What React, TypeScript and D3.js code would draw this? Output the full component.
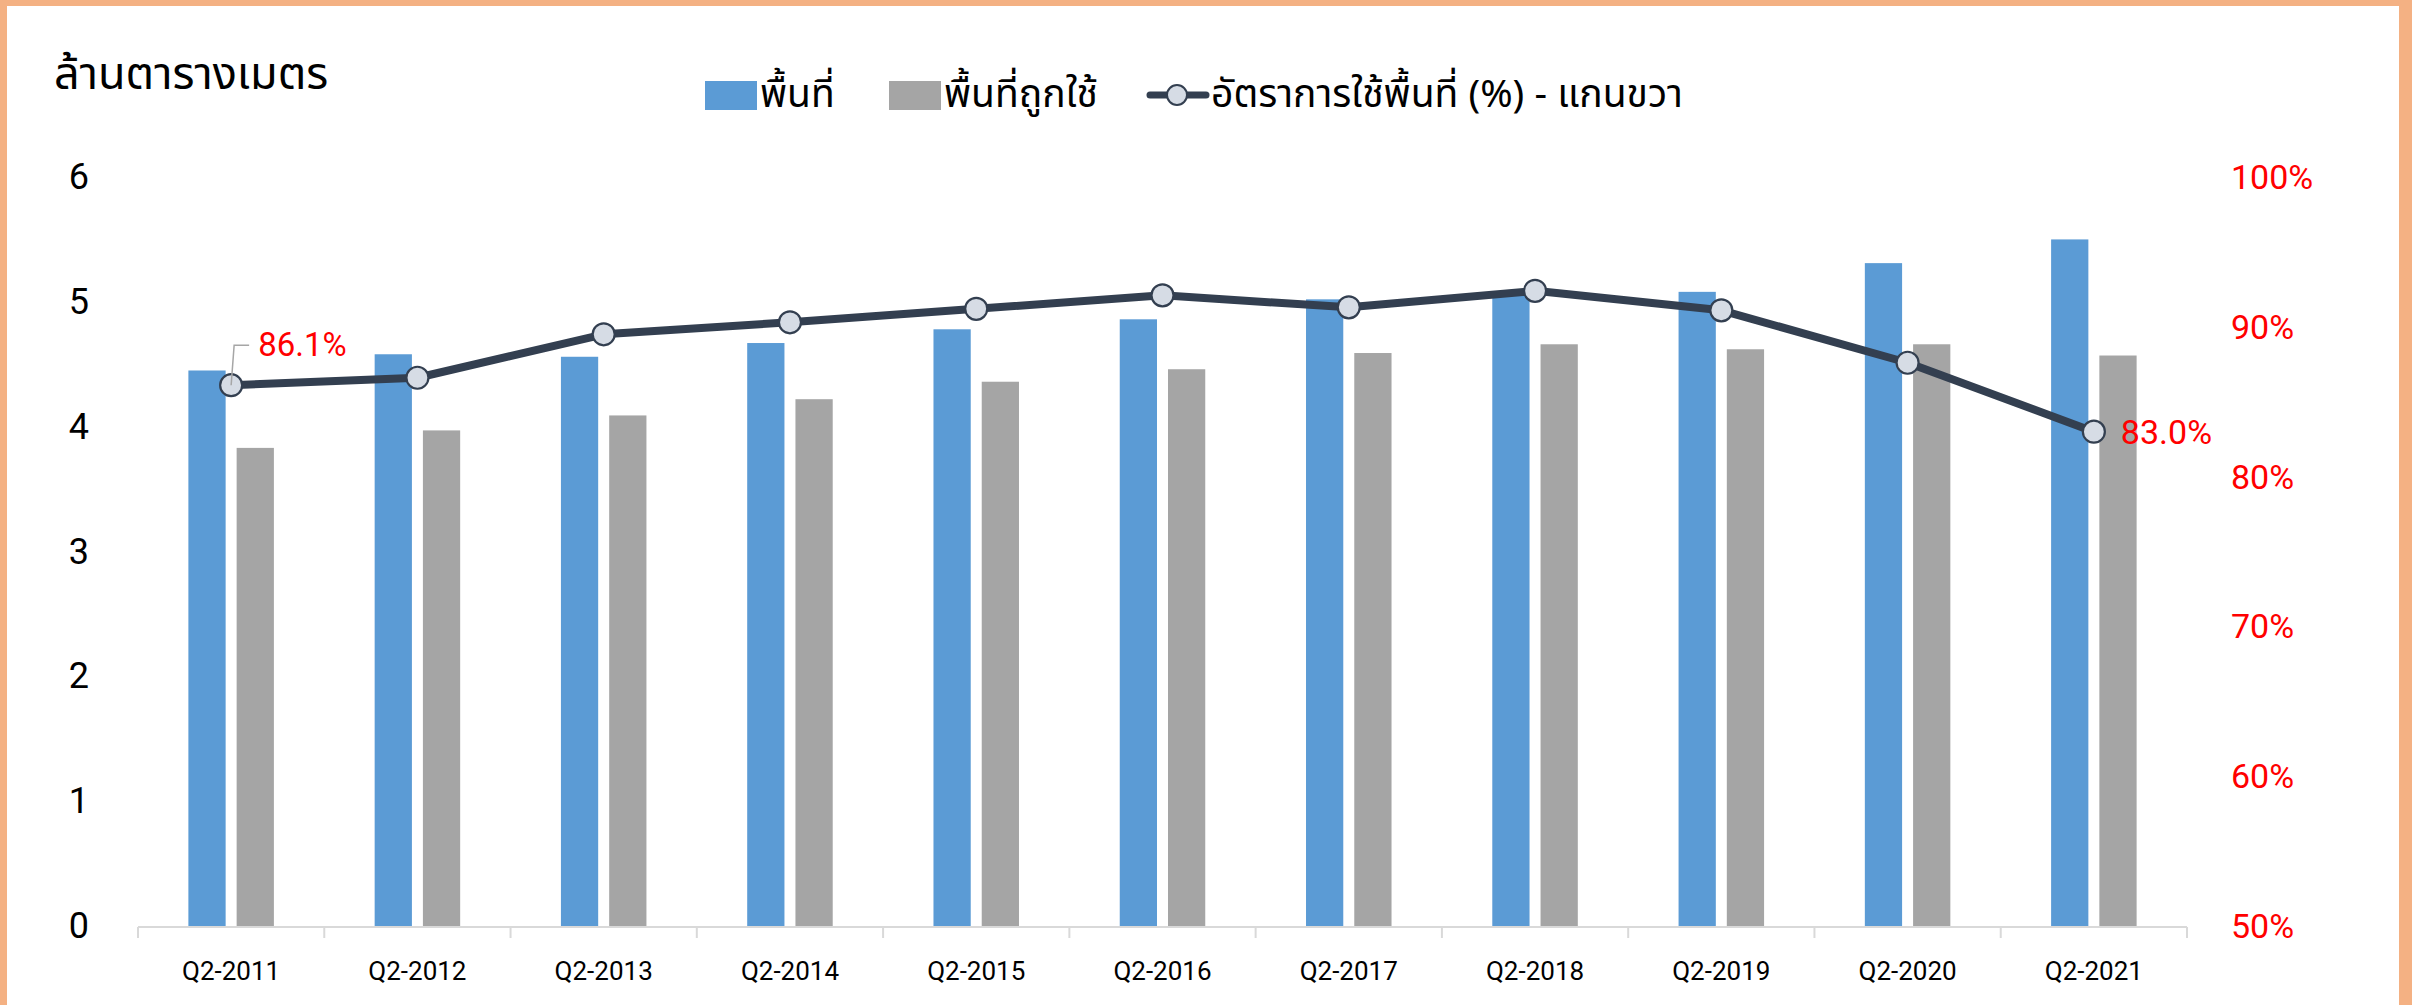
import * as d3 from 'd3';

const categories = [
  'Q2-2011', 'Q2-2012', 'Q2-2013', 'Q2-2014', 'Q2-2015', 'Q2-2016',
  'Q2-2017', 'Q2-2018', 'Q2-2019', 'Q2-2020', 'Q2-2021',
];
// ล้านตารางเมตร
const totalSpace = [4.45, 4.58, 4.56, 4.67, 4.78, 4.86, 5.02, 5.05, 5.08, 5.31, 5.5];
const occupiedSpace = [3.83, 3.97, 4.09, 4.22, 4.36, 4.46, 4.59, 4.66, 4.62, 4.66, 4.57];
// อัตราการใช้พื้นที่ (%)
const occupancyRate = [0.861, 0.866, 0.895, 0.903, 0.912, 0.921, 0.913, 0.924, 0.911, 0.876, 0.83];
const leftTicks = [0, 1, 2, 3, 4, 5, 6];
const rightTicks = [0.5, 0.6, 0.7, 0.8, 0.9, 1.0];

const W = 2412;
const H = 1005;
const BLUE = '#5B9BD5';
const GRAY = '#A5A5A5';
const LINE = '#333F50';
const MARKER = '#D6DCE5';
const RED = '#FF0000';
const THAI = '"Noto Sans Thai", "Noto Sans", "Open Sans", sans-serif';
const NUM = 'Roboto, "Noto Sans", sans-serif';

export default function App() {
  const x = d3.scaleBand<string>().domain(categories).range([138, 2187]);
  const yLeft = d3.scaleLinear().domain([0, 6]).range([926, 177]);
  const yRight = d3.scaleLinear().domain([0.5, 1]).range([926, 177]);
  const bw = x.bandwidth();
  const barW = bw * 0.2;
  const gap = 11;

  const linePath = d3
    .line<number>()
    .x((_, i) => (x(categories[i]) ?? 0) + bw / 2)
    .y((v) => yRight(v))(occupancyRate);

  const pct = d3.format('.0%');
  const pct1 = d3.format('.1%');

  const firstX = (x(categories[0]) ?? 0) + bw / 2;
  const firstY = yRight(occupancyRate[0]);
  const lastIdx = categories.length - 1;
  const lastX = (x(categories[lastIdx]) ?? 0) + bw / 2;
  const lastY = yRight(occupancyRate[lastIdx]);

  return (
    <div style={{ position: 'absolute', left: 0, top: 0 }}>
      <svg width={W} height={H} viewBox={`0 0 ${W} ${H}`} style={{ display: 'block' }}>
        <rect x={0} y={0} width={W} height={H} fill="#F4B183" />
        <rect x={7} y={6} width={2392} height={H} fill="#ffffff" />

        <text x={54} y={89} fontFamily={THAI} fontSize={45} fill="#000">
          ล้านตารางเมตร
        </text>

        {/* legend */}
        <g fontFamily={THAI} fontSize={39} fill="#000">
          <rect x={705} y={81} width={52} height={29} fill={BLUE} />
          <text x={760} y={95} dominantBaseline="central">พื้นที่</text>
          <rect x={889} y={81} width={52} height={29} fill={GRAY} />
          <text x={944} y={95} dominantBaseline="central">พื้นที่ถูกใช้</text>
          <line x1={1150} x2={1206} y1={95} y2={95} stroke={LINE} strokeWidth={7} strokeLinecap="round" />
          <circle cx={1177} cy={95} r={10} fill={MARKER} stroke={LINE} strokeWidth={2} />
          <text x={1211} y={95} dominantBaseline="central">อัตราการใช้พื้นที่ (%) - แกนขวา</text>
        </g>

        {/* left axis labels */}
        <g fontFamily={NUM} fontSize={36} fill="#000" textAnchor="end">
          {leftTicks.map((t) => (
            <text key={t} x={89} y={yLeft(t)} dominantBaseline="central">
              {t}
            </text>
          ))}
        </g>

        {/* right axis labels */}
        <g fontFamily={NUM} fontSize={34} fill={RED}>
          {rightTicks.map((t) => (
            <text key={t} x={2231} y={yRight(t)} dominantBaseline="central">
              {pct(t)}
            </text>
          ))}
        </g>

        {/* bars */}
        {categories.map((c, i) => {
          const cx = (x(c) ?? 0) + bw / 2;
          return (
            <g key={c}>
              <rect
                x={cx - gap / 2 - barW}
                y={yLeft(totalSpace[i])}
                width={barW}
                height={yLeft(0) - yLeft(totalSpace[i])}
                fill={BLUE}
              />
              <rect
                x={cx + gap / 2}
                y={yLeft(occupiedSpace[i])}
                width={barW}
                height={yLeft(0) - yLeft(occupiedSpace[i])}
                fill={GRAY}
              />
            </g>
          );
        })}

        {/* x axis */}
        <line x1={138} x2={2187} y1={927} y2={927} stroke="#D9D9D9" strokeWidth={2} />
        {[...categories.map((c) => x(c) ?? 0), 2187].map((tx, i) => (
          <line key={i} x1={tx} x2={tx} y1={927} y2={938} stroke="#D9D9D9" strokeWidth={2} />
        ))}
        <g fontFamily={NUM} fontSize={26} fill="#000" textAnchor="middle">
          {categories.map((c) => (
            <text key={c} x={(x(c) ?? 0) + bw / 2} y={971} dominantBaseline="central">
              {c}
            </text>
          ))}
        </g>

        {/* occupancy line */}
        <path d={linePath ?? ''} fill="none" stroke={LINE} strokeWidth={8} strokeLinejoin="round" />
        {occupancyRate.map((v, i) => (
          <circle
            key={i}
            cx={(x(categories[i]) ?? 0) + bw / 2}
            cy={yRight(v)}
            r={11}
            fill={MARKER}
            stroke={LINE}
            strokeWidth={2.2}
          />
        ))}

        {/* data labels */}
        <polyline
          points={`${firstX},${firstY} ${firstX + 3},${firstY - 40} ${firstX + 18},${firstY - 40}`}
          fill="none"
          stroke="#A6A6A6"
          strokeWidth={1.5}
        />
        <text x={firstX + 27} y={firstY - 41} fontFamily={NUM} fontSize={33} fill={RED} dominantBaseline="central">
          {pct1(occupancyRate[0])}
        </text>
        <text x={lastX + 27} y={lastY} fontFamily={NUM} fontSize={34} fill={RED} dominantBaseline="central">
          {pct1(occupancyRate[lastIdx])}
        </text>
      </svg>
    </div>
  );
}
